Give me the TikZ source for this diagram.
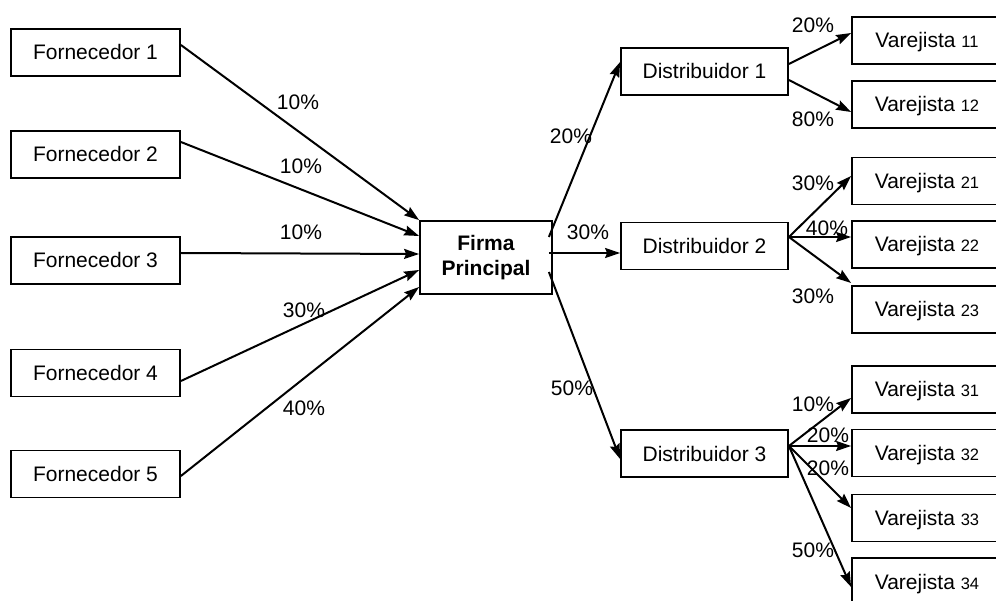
\documentclass[tikz,border=0pt]{standalone}
\usepackage{fontspec}
\setmainfont{Liberation Sans}
\usetikzlibrary{arrows.meta,calc}
\newcommand\vnum[1]{{\fontsize{16.5}{20}\selectfont #1}}
\begin{document}
\begin{tikzpicture}[x=1pt,y=-1pt,
  box/.style={draw, line width=1.8pt, inner sep=0pt, minimum height=47pt,
              text height=15pt, text depth=0pt, font=\fontsize{21}{25}\selectfont},
  fbox/.style={box, minimum width=169pt},
  dbox/.style={box, minimum width=167pt},
  vjbox/.style={box, minimum width=150pt},
  firmabox/.style={draw, line width=1.8pt, inner sep=0pt, minimum width=132pt,
              minimum height=73pt, align=center, font=\fontsize{21}{25}\selectfont\bfseries},
  pct/.style={inner sep=0pt, font=\fontsize{21}{25}\selectfont},
  flow/.style={line width=2pt, -{Stealth[length=15pt,width=10pt,inset=2pt]}}
]
\useasboundingbox (0,0) rectangle (996,601);

% suppliers
\node[fbox] (f1) at (95.5,52.5) {Fornecedor 1};
\node[fbox] (f2) at (95.5,154.5) {Fornecedor 2};
\node[fbox] (f3) at (95.5,260.5) {Fornecedor 3};
\node[fbox] (f4) at (95.5,373) {Fornecedor 4};
\node[fbox] (f5) at (95.5,474) {Fornecedor 5};

% main firm
\node[firmabox] (firma) at (486,257.5) {Firma\\Principal};

% distributors
\node[dbox] (d1) at (704.5,71.5) {Distribuidor 1};
\node[dbox] (d2) at (704.5,246) {Distribuidor 2};
\node[dbox] (d3) at (704.5,453.5) {Distribuidor 3};

% retailers
\node[vjbox] (v11) at (927,40.5) {Varejista \vnum{11}};
\node[vjbox] (v12) at (927,104.5) {Varejista \vnum{12}};
\node[vjbox] (v21) at (927,181) {Varejista \vnum{21}};
\node[vjbox] (v22) at (927,244.5) {Varejista \vnum{22}};
\node[vjbox] (v23) at (927,309.5) {Varejista \vnum{23}};
\node[vjbox] (v31) at (927,389.5) {Varejista \vnum{31}};
\node[vjbox] (v32) at (927,453) {Varejista \vnum{32}};
\node[vjbox] (v33) at (927,518) {Varejista \vnum{33}};
\node[vjbox] (v34) at (927,581.5) {Varejista \vnum{34}};

% supplier flows
\draw[flow] ([yshift=7.5pt]f1.east) -- (firma.north west);
\draw[flow] ([yshift=12.5pt]f2.east) -- ([yshift=21.5pt]firma.west);
\draw[flow] ([yshift=7.5pt]f3.east) -- ([yshift=3.5pt]firma.west);
\draw[flow] ([yshift=-8pt]f4.east) -- ([yshift=-12.5pt]firma.west);
\draw[flow] ([yshift=-2pt]f5.east) -- ([yshift=-29.5pt]firma.west);

% firm to distributors
\draw[flow] ([xshift=-4pt,yshift=20.5pt]firma.east) -- ([yshift=9.5pt]d1.west);
\draw[flow] ([xshift=-4pt,yshift=4.5pt]firma.east) -- ([yshift=-7pt]d2.west);
\draw[flow] ([xshift=-4pt,yshift=-14.5pt]firma.east) -- ([yshift=-5.5pt]d3.west);

% distributor 1
\draw[flow] ([yshift=7.5pt]d1.east) -- ([yshift=7.5pt]v11.west);
\draw[flow] ([yshift=-8.5pt]d1.east) -- ([yshift=-7.5pt]v12.west);
% distributor 2
\draw[flow] ([yshift=9pt]d2.east) -- ([yshift=5pt]v21.west);
\draw[flow] ([yshift=9pt]d2.east) -- ([yshift=7.5pt]v22.west);
\draw[flow] ([yshift=9pt]d2.east) -- ([yshift=26.5pt]v23.west);
% distributor 3
\draw[flow] ([yshift=7.5pt]d3.east) -- ([yshift=-8.5pt]v31.west);
\draw[flow] ([yshift=7.5pt]d3.east) -- ([yshift=7pt]v32.west);
\draw[flow] ([yshift=7.5pt]d3.east) -- ([yshift=10pt]v33.west);
\draw[flow] ([yshift=7.5pt]d3.east) -- ([yshift=-5.5pt]v34.west);

% percentages
\node[pct] (p1) at (298,102) {10\%};
\node[pct] (p2) at (301,166) {10\%};
\node[pct] (p3) at (301,232) {10\%};
\node[pct] (p4) at (304,310) {30\%};
\node[pct] (p5) at (304,408) {40\%};
\node[pct] (pd1) at (571,136) {20\%};
\node[pct] (pd2) at (588,232) {30\%};
\node[pct] (pd3) at (572,388) {50\%};
\node[pct] (p11) at (813,25) {20\%};
\node[pct] (p12) at (813,119) {80\%};
\node[pct] (p21) at (813,183) {30\%};
\node[pct] (p22) at (827,228) {40\%};
\node[pct] (p23) at (813,296) {30\%};
\node[pct] (p31) at (813,404) {10\%};
\node[pct] (p32) at (828,435) {20\%};
\node[pct] (p33) at (828,468) {20\%};
\node[pct] (p34) at (813,550) {50\%};
\end{tikzpicture}
\end{document}
